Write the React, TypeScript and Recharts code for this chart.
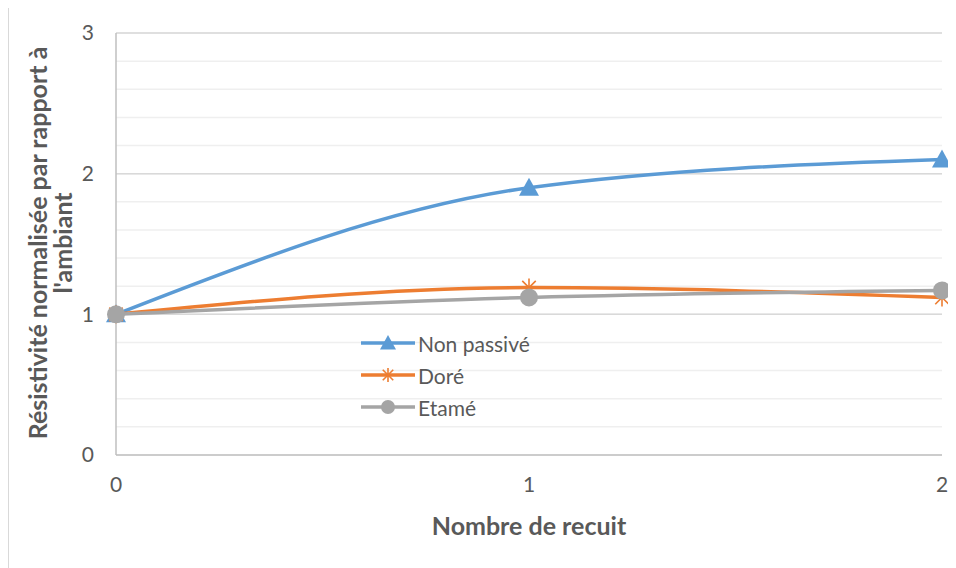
import React from 'react';
import {
  LineChart,
  Line,
  XAxis,
  YAxis,
  CartesianGrid,
  ReferenceLine,
} from 'recharts';

const recuits = [0, 1, 2];
const nonPassive = [1, 1.9, 2.1];
const dore = [1, 1.19, 1.12];
const etame = [1, 1.12, 1.17];
const yTicks = [0, 0.2, 0.4, 0.6, 0.8, 1, 1.2, 1.4, 1.6, 1.8, 2, 2.2, 2.4, 2.6, 2.8, 3];
const majorTicks = [1, 2, 3];

const data = recuits.map((r, i) => ({
  recuit: r,
  nonPassive: nonPassive[i],
  dore: dore[i],
  etame: etame[i],
}));

const FONT = 'Lato, "Open Sans", sans-serif';
const TEXT = '#595959';
const BLUE = '#5b9bd5';
const ORANGE = '#ed7d31';
const GRAY = '#a5a5a5';

function Triangle({ cx, cy, size = 10 }: any) {
  return (
    <path
      d={`M${cx},${cy - size} L${cx + size},${cy + size * 0.8} L${cx - size},${cy + size * 0.8} Z`}
      fill={BLUE}
    />
  );
}

function Star({ cx, cy, r = 8 }: any) {
  const d = r * 0.75;
  return (
    <g stroke={ORANGE} strokeWidth={1.6}>
      <line x1={cx} y1={cy - r} x2={cx} y2={cy + r} />
      <line x1={cx - d} y1={cy - d} x2={cx + d} y2={cy + d} />
      <line x1={cx - d} y1={cy + d} x2={cx + d} y2={cy - d} />
    </g>
  );
}

function Dot({ cx, cy, r = 9 }: any) {
  return <circle cx={cx} cy={cy} r={r} fill={GRAY} />;
}

const legendItems = [
  { name: 'Non passivé', color: BLUE, mark: 'tri' },
  { name: 'Doré', color: ORANGE, mark: 'star' },
  { name: 'Etamé', color: GRAY, mark: 'dot' },
];

function LegendBox() {
  return (
    <div style={{ fontFamily: FONT, fontSize: 21, color: TEXT }}>
      {legendItems.map((it) => (
        <div key={it.name} style={{ display: 'flex', alignItems: 'center', height: 32 }}>
          <svg width={58} height={24}>
            <line x1={2} y1={12} x2={56} y2={12} stroke={it.color} strokeWidth={3.5} />
            {it.mark === 'tri' && <Triangle cx={29} cy={12} size={8} />}
            {it.mark === 'star' && <Star cx={29} cy={12} r={7} />}
            {it.mark === 'dot' && <Dot cx={29} cy={12} r={7} />}
          </svg>
          <span style={{ marginLeft: 1 }}>{it.name}</span>
        </div>
      ))}
    </div>
  );
}

export default function App() {
  return (
    <div style={{ position: 'relative', width: 948, height: 560 }}>
      <div
        style={{
          position: 'absolute',
          left: -1,
          top: -4,
          width: 960,
          height: 600,
          borderLeft: '2px solid #d9d9d9',
          borderTop: '2px solid #d9d9d9',
        }}
      />
      <LineChart
        width={948}
        height={560}
        data={data}
        margin={{ top: 25, right: 14, bottom: 0, left: 0 }}
        style={{ fontFamily: FONT }}
      >
        <CartesianGrid vertical={false} stroke="#efefef" strokeWidth={1.5} />
        {majorTicks.map((t) => (
          <ReferenceLine key={t} y={t} stroke="#d9d9d9" strokeWidth={1.5} />
        ))}
        <XAxis
          dataKey="recuit"
          type="number"
          domain={[0, 2]}
          ticks={recuits}
          tickLine={false}
          tickSize={0}
          tickMargin={22}
          axisLine={{ stroke: '#bfbfbf', strokeWidth: 1.5 }}
          tick={{ fill: TEXT, fontSize: 21, fontFamily: FONT }}
          height={113}
          label={{
            content: () => (
              <text
                x={521}
                y={517}
                textAnchor="middle"
                dominantBaseline="central"
                fill={TEXT}
                fontSize={25}
                fontWeight="bold"
                fontFamily={FONT}
              >
                Nombre de recuit
              </text>
            ),
          }}
        />
        <YAxis
          type="number"
          domain={[0, 3]}
          ticks={yTicks}
          interval={0}
          width={108}
          tickLine={false}
          tickSize={0}
          tickMargin={22}
          axisLine={{ stroke: '#bfbfbf', strokeWidth: 1.5 }}
          tick={{ fill: TEXT, fontSize: 21, fontFamily: FONT }}
          tickFormatter={(v: number) => (Number.isInteger(v) ? String(v) : '')}
          label={{
            content: () => (
              <g fill={TEXT} fontSize={25} fontWeight="bold" fontFamily={FONT}>
                <text
                  x={29}
                  y={235}
                  textAnchor="middle"
                  dominantBaseline="central"
                  transform="rotate(-90 29 235)"
                >
                  Résistivité normalisée par rapport à
                </text>
                <text
                  x={54}
                  y={235}
                  textAnchor="middle"
                  dominantBaseline="central"
                  transform="rotate(-90 54 235)"
                >
                  l'ambiant
                </text>
              </g>
            ),
          }}
        />
        <Line
          type="monotone"
          dataKey="nonPassive"
          name="Non passivé"
          stroke={BLUE}
          strokeWidth={3.5}
          dot={(p: any) => <Triangle key={p.index} cx={p.cx} cy={p.cy} size={10} />}
          isAnimationActive={false}
        />
        <Line
          type="monotone"
          dataKey="dore"
          name="Doré"
          stroke={ORANGE}
          strokeWidth={3.5}
          dot={(p: any) => <Star key={p.index} cx={p.cx} cy={p.cy} r={9} />}
          isAnimationActive={false}
        />
        <Line
          type="monotone"
          dataKey="etame"
          name="Etamé"
          stroke={GRAY}
          strokeWidth={3.5}
          dot={(p: any) => <Dot key={p.index} cx={p.cx} cy={p.cy} r={9} />}
          isAnimationActive={false}
        />
      </LineChart>
      <div style={{ position: 'absolute', left: 351, top: 319 }}>
        <LegendBox />
      </div>
    </div>
  );
}
